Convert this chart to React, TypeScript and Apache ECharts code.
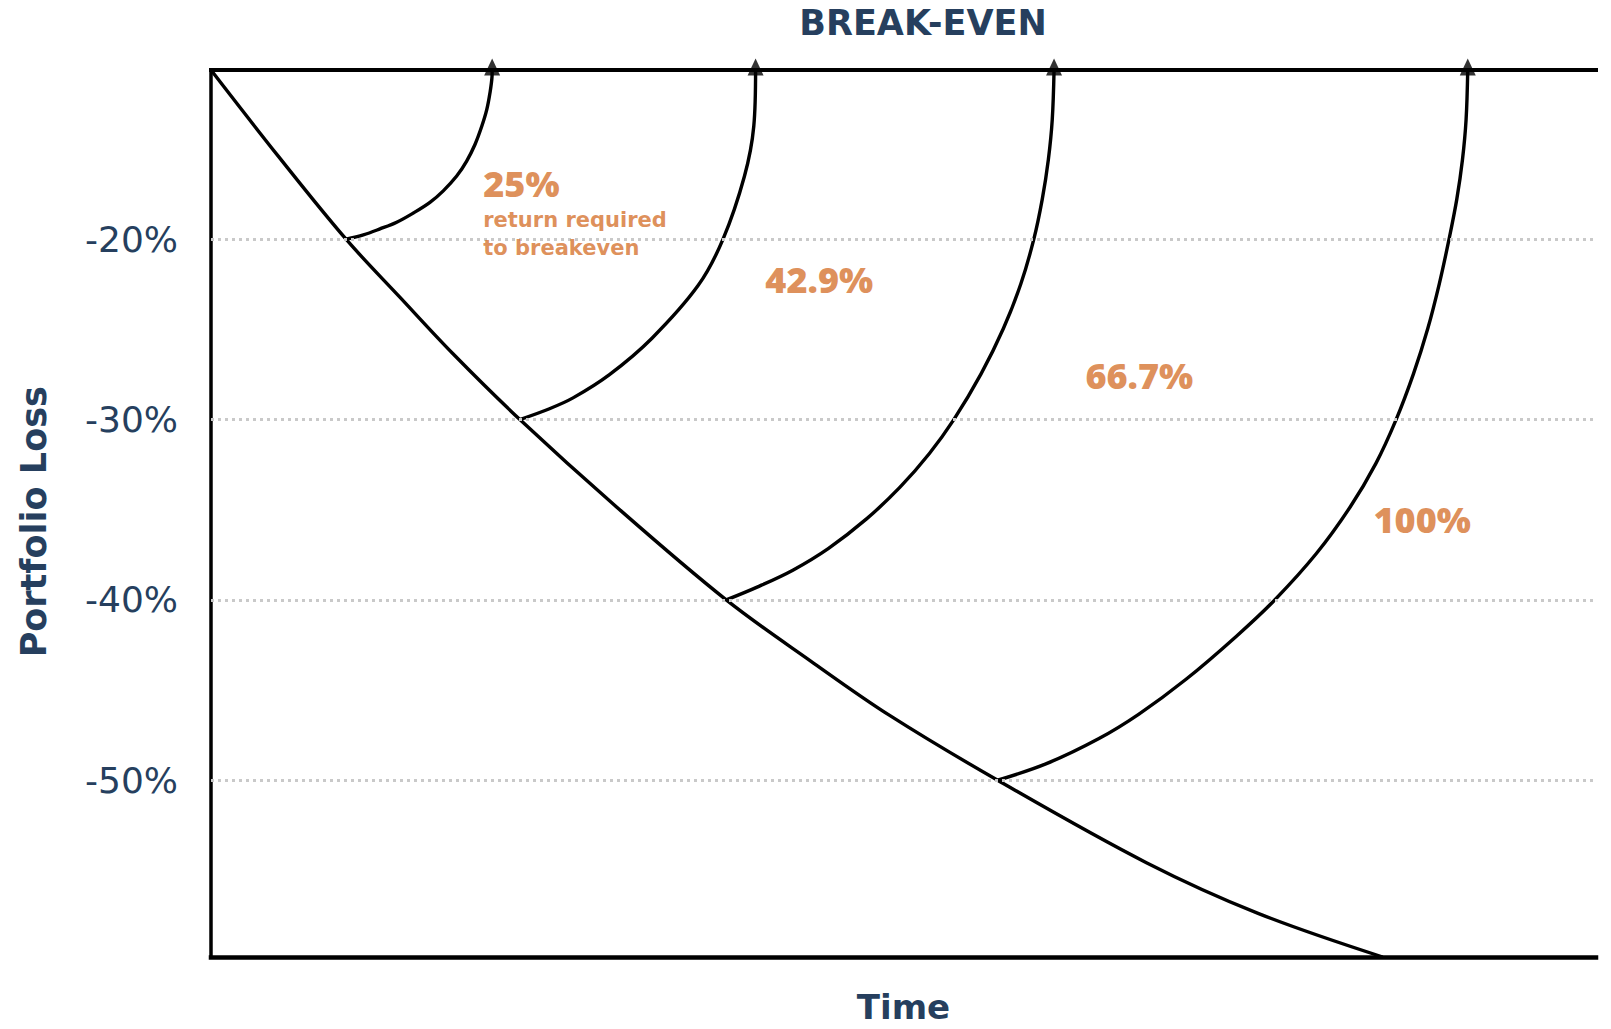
import React, { useEffect, useRef } from "react";
import * as echarts from "echarts";

// Falling portfolio value over time: [time, loss %]
const declinePath: [number, number][] = [
  [0, -10.62],
  [4.84, -15.38],
  [9.75, -20],
  [13.65, -23.23],
  [17.49, -26.37],
  [22.3, -30],
  [29.12, -34.74],
  [37.2, -40],
  [43.3, -43.39],
  [48.97, -46.39],
  [56.8, -50],
  [67.54, -54.57],
  [75.6, -57.38],
  [84.6, -59.8],
];

// Recovery from a 20% loss back to break-even
const recoveryFrom20: [number, number][] = [
  [9.75, -20],
  [11.0, -19.76],
  [12.2, -19.43],
  [13.41, -19.06],
  [14.61, -18.55],
  [15.81, -17.96],
  [16.77, -17.32],
  [17.74, -16.5],
  [18.46, -15.67],
  [19.06, -14.75],
  [19.55, -13.74],
  [19.91, -12.82],
  [20.14, -11.9],
  [20.29, -10.99],
  [20.3, -10.62],
];

// Recovery from a 30% loss
const recoveryFrom30: [number, number][] = [
  [22.3, -30],
  [24.44, -29.4],
  [26.14, -28.8],
  [28.77, -27.51],
  [31.84, -25.49],
  [35.18, -22.56],
  [36.97, -20.0],
  [38.52, -16.5],
  [39.19, -13.74],
  [39.32, -10.62],
];

// Recovery from a 40% loss
const recoveryFrom40: [number, number][] = [
  [37.2, -40],
  [39.43, -39.29],
  [42.01, -38.35],
  [44.59, -37.14],
  [47.33, -35.51],
  [49.75, -33.75],
  [51.87, -31.88],
  [53.62, -30.02],
  [55.6, -27.47],
  [57.22, -24.94],
  [58.48, -22.46],
  [59.41, -20.0],
  [60.02, -17.78],
  [60.46, -15.58],
  [60.74, -13.37],
  [60.87, -10.62],
];

// Recovery from a 50% loss
const recoveryFrom50: [number, number][] = [
  [56.8, -50],
  [60.32, -49.08],
  [64.08, -47.7],
  [67.0, -46.33],
  [70.4, -44.4],
  [74.04, -42.01],
  [76.82, -39.99],
  [79.81, -37.43],
  [82.25, -34.85],
  [84.11, -32.43],
  [85.56, -30.02],
  [86.82, -27.47],
  [87.86, -24.94],
  [88.69, -22.46],
  [89.39, -20.0],
  [89.95, -17.78],
  [90.36, -15.58],
  [90.62, -13.37],
  [90.74, -10.62],
];

const recoveryPaths = [recoveryFrom20, recoveryFrom30, recoveryFrom40, recoveryFrom50];

const lossLevels = [-20, -30, -40, -50];
const requiredReturn = [25, 42.9, 66.7, 100];
const yTickLabels = [-20, -30, -40, -50];
const captionLines = ["return required", "to breakeven"];

// Axis extents (break-even line sits on the top edge)
const X_MIN = 0;
const X_MAX = 100;
const Y_MIN = -59.8;
const Y_MAX = -10.62;

// Label anchors in data coordinates (left edge, vertical middle)
const returnLabelAt: [number, number][] = [
  [19.62, -16.9],
  [39.99, -22.23],
  [63.1, -27.55],
  [83.9, -35.54],
];
const captionAt: [number, number] = [19.62, -19.71];

const NAVY = "#263f5e";
const ORANGE = "#d6732f";
const INK = "#000000";

export default function App() {
  const ref = useRef<HTMLDivElement>(null);

  useEffect(() => {
    if (!ref.current) return;
    const chart = echarts.init(ref.current, undefined, { renderer: "svg" });

    const curveStyle = { color: INK, width: 3.4 };

    const option: echarts.EChartsOption = {
      animation: false,
      backgroundColor: "#ffffff",
      textStyle: { fontFamily: "DejaVu Sans" },
      grid: { left: 211, right: 15, top: 70, bottom: 65.5, containLabel: false },
      graphic: [
        {
          type: "text",
          x: 923,
          y: 22.5,
          style: {
            text: "BREAK-EVEN",
            align: "center",
            verticalAlign: "middle",
            fontFamily: "DejaVu Sans",
            fontWeight: "bold",
            fontSize: 35,
            fill: NAVY,
          },
        },
      ],
      xAxis: [
        {
          type: "value",
          position: "bottom",
          min: X_MIN,
          max: X_MAX,
          axisLine: { show: true, onZero: false, lineStyle: { color: INK, width: 4.5, cap: "square" } },
          axisTick: { show: false },
          axisLabel: { show: false },
          splitLine: { show: false },
          name: "Time",
          nameLocation: "middle",
          nameGap: 50,
          nameTextStyle: {
            fontFamily: "DejaVu Sans",
            fontWeight: "bold",
            fontSize: 34,
            color: NAVY,
            verticalAlign: "middle",
          },
        },
        {
          type: "value",
          position: "top",
          min: X_MIN,
          max: X_MAX,
          axisLine: { show: true, onZero: false, lineStyle: { color: INK, width: 4, cap: "square" } },
          axisTick: { show: false },
          axisLabel: { show: false },
          splitLine: { show: false },
        },
      ],
      yAxis: {
        type: "value",
        min: Y_MIN,
        max: Y_MAX,
        axisLine: { show: true, onZero: false, lineStyle: { color: INK, width: 3.5, cap: "square" } },
        axisTick: { show: false },
        splitLine: { show: false },
        axisLabel: {
          formatter: (v: number) => (yTickLabels.includes(v) ? `${v}%` : ""),
          margin: 33,
          fontFamily: "DejaVu Sans",
          fontSize: 36,
          color: NAVY,
          verticalAlign: "middle",
          padding: [0, 0, 8, 0],
          showMinLabel: false,
          showMaxLabel: false,
        },
        name: "Portfolio Loss",
        nameLocation: "middle",
        nameGap: 177,
        nameRotate: 90,
        nameTextStyle: {
          fontFamily: "DejaVu Sans",
          fontWeight: "bold",
          fontSize: 35,
          color: NAVY,
          verticalAlign: "middle",
          padding: [0, 16.5, 0, 0],
        },
      },
      series: [
        {
          // dotted guides at each loss level
          type: "line",
          data: [],
          silent: true,
          z: 1,
          markLine: {
            silent: true,
            symbol: ["none", "none"],
            label: { show: false },
            lineStyle: { color: "#c9c9c9", width: 3, type: [3, 4] },
            emphasis: { disabled: true },
            data: lossLevels.map((v) => ({ yAxis: v })),
          },
        },
        {
          name: "decline",
          type: "line",
          data: declinePath,
          smooth: 0.35,
          symbol: "none",
          showSymbol: false,
          clip: false,
          silent: true,
          lineStyle: curveStyle,
          z: 3,
        },
        ...recoveryPaths.map((path, i) => ({
          name: `recovery ${lossLevels[i]}`,
          type: "line" as const,
          data: path,
          smooth: 0.35,
          symbol: "none",
          showSymbol: false,
          clip: false,
          silent: true,
          lineStyle: curveStyle,
          z: 3,
        })),
        {
          // arrowheads where each recovery reaches break-even
          type: "scatter",
          data: recoveryPaths.map((p) => p[p.length - 1]),
          symbol: "triangle",
          symbolSize: [16, 17],
          symbolOffset: [0, -3],
          itemStyle: { color: INK },
          clip: false,
          silent: true,
          z: 4,
        },
        {
          type: "scatter",
          data: returnLabelAt,
          symbolSize: 1,
          itemStyle: { color: "rgba(0,0,0,0)" },
          clip: false,
          silent: true,
          z: 5,
          label: {
            show: true,
            position: "right",
            distance: 0,
            formatter: (p: any) => `${requiredReturn[p.dataIndex]}%`,
            fontFamily: "Open Sans",
            fontWeight: 800,
            fontSize: 36,
            color: ORANGE,
            align: "left",
            verticalAlign: "middle",
          },
        },
        {
          type: "scatter",
          data: [captionAt],
          symbolSize: 1,
          itemStyle: { color: "rgba(0,0,0,0)" },
          clip: false,
          silent: true,
          z: 5,
          label: {
            show: true,
            position: "right",
            distance: 0,
            formatter: () => captionLines.join("\n"),
            fontFamily: "DejaVu Sans",
            fontWeight: "bold",
            fontSize: 21,
            lineHeight: 28.4,
            color: ORANGE,
            align: "left",
            verticalAlign: "middle",
          },
        },
      ],
    };

    chart.setOption(option);
    return () => chart.dispose();
  }, []);

  return (
    <div
      ref={ref}
      style={{ position: "fixed", left: 0, top: 0, width: 1611, height: 1029, background: "#fff" }}
    />
  );
}
